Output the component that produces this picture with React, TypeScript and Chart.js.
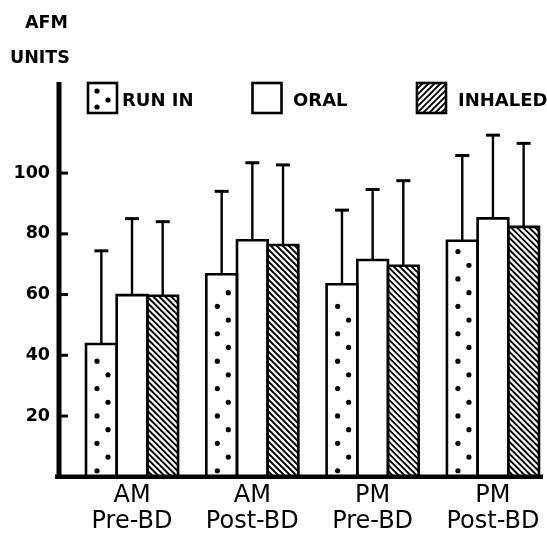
import { useEffect, useRef } from 'react';
import { Chart, registerables } from 'chart.js';
Chart.register(...registerables);

const categories: string[][] = [['AM', 'Pre-BD'], ['AM', 'Post-BD'], ['PM', 'Pre-BD'], ['PM', 'Post-BD']];
const categoryPositions = [1, 2, 3, 4];
const seriesNames = ['RUN IN', 'ORAL', 'INHALED'];
const runIn = [43.7, 66.7, 63.4, 77.7];
const oral = [59.8, 77.9, 71.4, 85.1];
const inhaled = [59.6, 76.3, 69.5, 82.3];
const runInSD = [30.7, 27.3, 24.4, 28.1];
const oralSD = [25.2, 25.5, 23.2, 27.4];
const inhaledSD = [24.4, 26.4, 28.0, 27.5];
const yTicks = [20, 40, 60, 80, 100];
const yMax = 130;

const seriesValues = [runIn, oral, inhaled];
const seriesSD = [runInSD, oralSD, inhaledSD];
const seriesFill = ['dots', 'plain', 'hatch'];

const BOLD = 'bold 17.5px "DejaVu Sans"';

function drawDots(ctx: CanvasRenderingContext2D, left: number, top: number, base: number) {
  let yy = base - 6;
  let col = 0;
  while (yy > top + 9) {
    const xx = left + (col === 0 ? 11 : 22);
    ctx.beginPath();
    ctx.arc(xx, yy, 2.6, 0, Math.PI * 2);
    ctx.fill();
    yy -= 13.7;
    col = 1 - col;
  }
}

function drawHatch(ctx: CanvasRenderingContext2D, left: number, top: number, w: number, h: number, dir: number) {
  ctx.lineWidth = 1.9;
  const step = 6;
  ctx.beginPath();
  for (let k = -h - step; k < w + h + step; k += step) {
    if (dir > 0) {
      ctx.moveTo(left + k, top);
      ctx.lineTo(left + k + h, top + h);
    } else {
      ctx.moveTo(left + k, top + h);
      ctx.lineTo(left + k + h, top);
    }
  }
  ctx.stroke();
}

const decorPlugin = {
  id: 'decor',
  afterDatasetsDraw(chart: any) {
    const ctx: CanvasRenderingContext2D = chart.ctx;
    const yScale = chart.scales.y;
    ctx.save();
    ctx.strokeStyle = '#000';
    ctx.fillStyle = '#000';
    chart.data.datasets.forEach((ds: any, di: number) => {
      const meta = chart.getDatasetMeta(di);
      meta.data.forEach((bar: any, i: number) => {
        const { x, y, base, width } = bar.getProps(['x', 'y', 'base', 'width'], true);
        const left = x - width / 2;
        const right = x + width / 2;
        ctx.save();
        ctx.beginPath();
        ctx.rect(left, y, width, base - y);
        ctx.clip();
        if (seriesFill[di] === 'dots') drawDots(ctx, left, y, base);
        if (seriesFill[di] === 'hatch') drawHatch(ctx, left, y, width, base - y, 1);
        ctx.restore();
        ctx.lineWidth = 2.6;
        ctx.beginPath();
        ctx.moveTo(left, base);
        ctx.lineTo(left, y);
        ctx.lineTo(right, y);
        ctx.lineTo(right, base);
        ctx.stroke();
        // error bar
        const v = seriesValues[di][i];
        const topPx = yScale.getPixelForValue(v + seriesSD[di][i]);
        ctx.lineWidth = 2.4;
        ctx.beginPath();
        ctx.moveTo(x, y);
        ctx.lineTo(x, topPx);
        ctx.stroke();
        ctx.lineWidth = 3;
        ctx.beginPath();
        ctx.moveTo(x - 7, topPx);
        ctx.lineTo(x + 7, topPx);
        ctx.stroke();
      });
    });
    ctx.restore();
  },
  afterDraw(chart: any) {
    const ctx: CanvasRenderingContext2D = chart.ctx;
    const { left, right, top, bottom } = chart.chartArea;
    const yScale = chart.scales.y;
    ctx.save();
    ctx.strokeStyle = '#000';
    ctx.fillStyle = '#000';
    // axes
    ctx.lineWidth = 5;
    ctx.beginPath();
    ctx.moveTo(left, top);
    ctx.lineTo(left, bottom + 2);
    ctx.stroke();
    ctx.lineWidth = 4.5;
    ctx.beginPath();
    ctx.moveTo(left - 4, bottom);
    ctx.lineTo(right, bottom);
    ctx.stroke();
    ctx.lineWidth = 3;
    yTicks.forEach((t) => {
      const py = yScale.getPixelForValue(t);
      ctx.beginPath();
      ctx.moveTo(left, py);
      ctx.lineTo(left + 9, py);
      ctx.stroke();
    });
    // unit title
    ctx.font = BOLD;
    ctx.textBaseline = 'alphabetic';
    ctx.textAlign = 'left';
    ctx.fillText('AFM', 25, 28);
    ctx.fillText('UNITS', 10, 63);
    // legend
    const boxes = [88, 252.5, 417];
    const textX = [122, 293, 458];
    boxes.forEach((bx, k) => {
      const by = 83, bw = 29, bh = 30;
      ctx.fillStyle = '#fff';
      ctx.fillRect(bx, by, bw, bh);
      ctx.fillStyle = '#000';
      ctx.save();
      ctx.beginPath();
      ctx.rect(bx, by, bw, bh);
      ctx.clip();
      if (seriesFill[k] === 'dots') {
        [[9, 8], [20, 17], [9, 24]].forEach(([dx, dy]) => {
          ctx.beginPath();
          ctx.arc(bx + dx, by + dy, 2.6, 0, Math.PI * 2);
          ctx.fill();
        });
      }
      if (seriesFill[k] === 'hatch') drawHatch(ctx, bx, by, bw, bh, -1);
      ctx.restore();
      ctx.lineWidth = 2.6;
      ctx.strokeRect(bx, by, bw, bh);
      ctx.font = 'bold 18px "DejaVu Sans"';
      ctx.fillText(seriesNames[k], textX[k], 106);
    });
    ctx.restore();
  },
};

export default function App() {
  const ref = useRef<HTMLCanvasElement>(null);
  useEffect(() => {
    if (!ref.current) return;
    const chart = new Chart(ref.current, {
      type: 'bar',
      data: {
        datasets: seriesNames.map((name, di) => ({
          label: name,
          data: categoryPositions.map((p, i) => ({ x: p, y: seriesValues[di][i] })),
          backgroundColor: '#ffffff',
          borderWidth: 0,
          categoryPercentage: 0.765,
          barPercentage: 1,
        })),
      },
      options: {
        animation: false,
        responsive: true,
        maintainAspectRatio: false,
        layout: { padding: { left: 0, right: 4, top: 82, bottom: 0 } },
        plugins: { legend: { display: false }, tooltip: { enabled: false } },
        scales: {
          x: {
            type: 'linear',
            offset: false,
            min: 0.393,
            max: 4.416,
            afterBuildTicks: (s: any) => {
              s.ticks = categoryPositions.map((v) => ({ value: v }));
            },
            afterFit: (s: any) => {
              s.height = 57.25;
            },
            grid: { display: false, drawTicks: false, offset: false },
            border: { display: false },
            ticks: {
              autoSkip: false,
              maxRotation: 0,
              padding: 6,
              color: '#000',
              font: { family: '"DejaVu Sans"', size: 24, lineHeight: 1.083 },
              callback: (v: any) => {
                const idx = categoryPositions.indexOf(Number(v));
                return idx >= 0 ? categories[idx] : '';
              },
            },
          },
          y: {
            min: 0,
            max: yMax,
            afterBuildTicks: (s: any) => {
              s.ticks = yTicks.map((v) => ({ value: v }));
            },
            afterFit: (s: any) => {
              s.width = 59;
            },
            grid: { display: false, drawTicks: false },
            border: { display: false },
            ticks: {
              padding: 9,
              color: '#000',
              font: { family: '"DejaVu Sans"', size: 17.5, weight: 'bold' },
            },
          },
        },
      },
      plugins: [decorPlugin],
    } as any);
    return () => chart.destroy();
  }, []);
  return (
    <div style={{ position: 'absolute', left: 0, top: 0, width: 547, height: 534, background: '#fff' }}>
      <canvas ref={ref} />
    </div>
  );
}
